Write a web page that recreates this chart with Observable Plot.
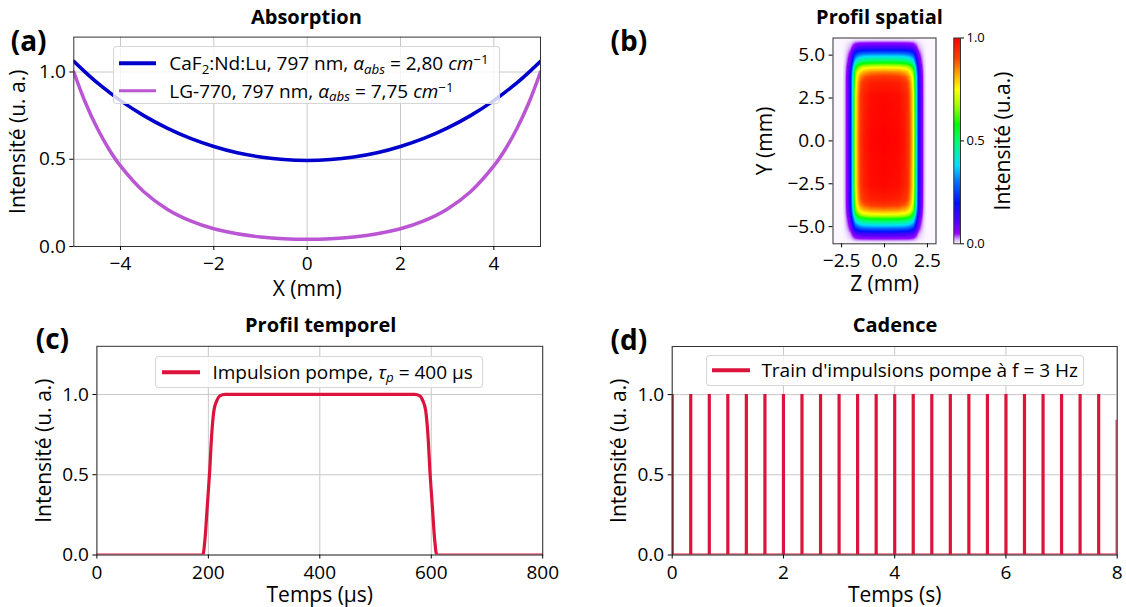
<!DOCTYPE html>
<html><head><meta charset="utf-8">
<script src="https://cdn.jsdelivr.net/npm/d3@7"></script>
<script src="https://cdn.jsdelivr.net/npm/@observablehq/plot@0.6"></script>
<style>
body{margin:0;background:#fff;font-family:"Open Sans",sans-serif;color:#000;}
#root{position:relative;width:1126px;height:607px;overflow:hidden;background:#fff;}
.title{position:absolute;font-weight:700;font-size:20px;transform:translate(-50%,-50%);white-space:nowrap;line-height:1;}
.letter{position:absolute;font-weight:700;font-size:28px;line-height:1;transform:translateY(-50%);}
.legend{position:absolute;background:rgba(255,255,255,0.8);border:1px solid rgba(204,204,204,0.8);border-radius:4px;box-sizing:border-box;z-index:5;}
.entry{position:absolute;font-size:19px;white-space:nowrap;line-height:1;transform:translateY(-50%);}
.swatch{position:absolute;height:3.5px;transform:translateY(-50%);}
.rlabel{position:absolute;font-size:21px;white-space:nowrap;line-height:1;transform:translate(-50%,-50%) rotate(-90deg);}
sub,sup{font-size:70%;line-height:0;vertical-align:baseline;position:relative;}
sub{top:0.25em;}
sup{top:-0.45em;}
svg [aria-label="x-axis label"], svg [aria-label="y-axis label"]{font-size:21px;}
</style></head>
<body><div id="root"></div>
<script>
// ---------- data ----------
// (a) Absorption profiles
const xA = [-5,-4.75,-4.5,-4.25,-4,-3.5,-3,-2.5,-2,-1.5,-1,-0.5,0,0.5,1,1.5,2,2.5,3,3.5,4,4.25,4.5,4.75,5];
const caf2 = [1.061,0.998,0.939,0.886,0.836,0.750,0.678,0.619,0.573,0.537,0.513,0.498,0.493,0.498,0.513,0.537,0.573,0.619,0.678,0.750,0.836,0.886,0.939,0.998,1.061];
const lg770 = [1.000,0.824,0.679,0.559,0.462,0.314,0.214,0.147,0.102,0.073,0.055,0.045,0.042,0.045,0.055,0.073,0.102,0.147,0.214,0.314,0.462,0.559,0.679,0.824,1.000];
const xTicksA = [-4,-2,0,2,4];
const yTicks = [0,0.5,1];

// (b) spatial profile (separable Z and Y profiles)
const zPos = [-3,-2.45,-2.3,-2.15,-2.05,-1.98,-1.88,-1.79,-1.69,-1.55,-1.4,-1.2,-0.8,0,0.8,1.2,1.4,1.55,1.69,1.79,1.88,1.98,2.05,2.15,2.3,2.45,3];
const zVal = [0,0,0.02,0.08,0.14,0.2,0.38,0.55,0.75,0.85,0.92,0.96,0.99,1,0.99,0.96,0.92,0.85,0.75,0.55,0.38,0.2,0.14,0.08,0.02,0,0];
const yPos = [-6,-5.95,-5.83,-5.6,-5.4,-5.29,-4.94,-4.6,-4.28,-4.03,-3.73,-3.4,-2.6,0,2.6,3.4,3.73,4.03,4.28,4.6,4.94,5.29,5.4,5.6,5.83,5.95,6];
const yVal = [0,0,0.02,0.08,0.14,0.2,0.38,0.55,0.75,0.85,0.92,0.96,0.99,1,0.99,0.96,0.92,0.85,0.75,0.55,0.38,0.2,0.14,0.08,0.02,0,0];
const zTicks = [-2.5,0,2.5];
const yTicksB = [-5,-2.5,0,2.5,5];
const cStops = [0,0.02,0.05,0.1,0.2,0.3,0.38,0.5,0.58,0.67,0.75,0.82,0.9,1];
const cColors = ["#fbf6ff","#d9b3ff","#9400ff","#5a00ff","#0010ff","#0070ff","#00e0ff","#00ff70","#00ff00","#a0ff00","#ffff00","#ffb000","#ff4000","#ff0000"];

// (c) temporal pulse
const tPulse = [0,190,194,198,202,206,210,215,220,230,400,570,580,585,590,594,598,602,606,610,800];
const vPulse = [0,0,0.1,0.3,0.5,0.75,0.9,0.96,0.99,1,1,1,0.99,0.96,0.9,0.75,0.5,0.3,0.1,0,0];
const xTicksC = [0,200,400,600,800];

// (d) pulse train at 3 Hz
const pulseT = [0,0.333,0.667,1,1.333,1.667,2,2.333,2.667,3,3.333,3.667,4,4.333,4.667,5,5.333,5.667,6,6.333,6.667,7,7.333,7.667,8];
const pulseH = [1,1,1,1,1,1,1,1,1,1,1,1,1,1,1,1,1,1,1,1,1,1,1,1,0.84];
const xTicksD = [0,2,4,6,8];

// ---------- styles ----------
const BLUE = "#0000cd", PURPLE = "#ba55d3", RED = "#dc143c", GRID = "#c8c8c8", FRAME = "#333";
const baseStyle = {fontFamily:"'Open Sans', sans-serif", fontSize:"19px", color:"#000", background:"transparent", overflow:"visible"};
const f1 = d3.format(".1f"), f0 = d3.format(".0f");
const colorScale = {type:"linear", domain:cStops, range:cColors, interpolate:"rgb"};
const root = document.getElementById("root");
function place(el, left, top){ el.style.position="absolute"; el.style.left=left+"px"; el.style.top=top+"px"; root.appendChild(el); return el; }
function html(cls, inner, left, top, extra){ const d=document.createElement("div"); d.className=cls; d.innerHTML=inner; d.style.left=left+"px"; d.style.top=top+"px"; if(extra) Object.assign(d.style, extra); root.appendChild(d); return d; }
const axX = {tickSize:4, tickPadding:6, labelAnchor:"center", labelArrow:"none"};
const axY = {tickSize:4, tickPadding:4, labelAnchor:"center", labelArrow:"none"};

// ---------- (a) ----------
const dataA = xA.map((x,i)=>({x, caf2:caf2[i], lg:lg770[i]}));
place(Plot.plot({
  width:560, height:300, marginLeft:73.3, marginRight:20, marginTop:36.6, marginBottom:54,
  style:baseStyle, x:{domain:[-5,5]}, y:{domain:[0,1.2]},
  marks:[
    Plot.gridX({ticks:xTicksA, stroke:GRID, strokeOpacity:1}),
    Plot.gridY({ticks:yTicks, stroke:GRID, strokeOpacity:1}),
    Plot.line(dataA, {x:"x", y:"lg", stroke:PURPLE, strokeWidth:3.5, curve:"catmull-rom", clip:true}),
    Plot.line(dataA, {x:"x", y:"caf2", stroke:BLUE, strokeWidth:3.5, curve:"catmull-rom", clip:true}),
    Plot.frame({stroke:FRAME}),
    Plot.axisX({...axX, ticks:xTicksA, tickFormat:f0, label:"X (mm)", labelOffset:49.5}),
    Plot.axisY({...axY, ticks:yTicks, tickFormat:f1, label:"Intensité (u. a.)", labelOffset:63.5})
  ]
}), 0, 0);

// ---------- (b) ----------
const fz = d3.scaleLinear().domain(zPos).range(zVal).clamp(true);
const fy = d3.scaleLinear().domain(yPos).range(yVal).clamp(true);
place(Plot.plot({
  width:250, height:300, marginLeft:132.5, marginRight:14.5, marginTop:37.5, marginBottom:56.7,
  style:baseStyle, x:{domain:[-3,3]}, y:{domain:[-6,6]}, color:colorScale,
  marks:[
    Plot.raster({x1:-3, x2:3, y1:-6, y2:6, fill:(x,y)=>fz(x)*fy(y), pixelSize:1}),
    Plot.frame({stroke:FRAME}),
    Plot.axisX({...axX, ticks:zTicks, tickFormat:f1, label:"Z (mm)", labelOffset:47.5}),
    Plot.axisY({...axY, ticks:yTicksB, tickFormat:f1, label:"Y (mm)", labelOffset:76})
  ]
}), 700, 0);

// colorbar
place(Plot.plot({
  width:100, height:300, marginLeft:13.3, marginRight:80, marginTop:37.5, marginBottom:56.7,
  style:{...baseStyle, fontSize:"13px"}, x:{domain:[0,1], axis:null}, y:{domain:[0,1]}, color:colorScale,
  marks:[
    Plot.raster({x1:0, x2:1, y1:0, y2:1, fill:(x,y)=>y, pixelSize:1}),
    Plot.frame({stroke:FRAME}),
    Plot.axisY({anchor:"right", ticks:[0,0.5,1], tickFormat:f1, tickSize:3, tickPadding:3, label:null})
  ]
}), 940, 0);
html("rlabel", "Intensité (u.a.)", 1002, 140.6);

// ---------- (c) ----------
const dataC = tPulse.map((t,i)=>({t, v:vPulse[i]}));
place(Plot.plot({
  width:560, height:307, marginLeft:96.4, marginRight:17.8, marginTop:45.8, marginBottom:52.5,
  style:baseStyle, x:{domain:[0,800]}, y:{domain:[0,1.3]},
  marks:[
    Plot.gridX({ticks:xTicksC, stroke:GRID, strokeOpacity:1}),
    Plot.gridY({ticks:yTicks, stroke:GRID, strokeOpacity:1}),
    Plot.line(dataC, {x:"t", y:"v", stroke:RED, strokeWidth:3.2, curve:"monotone-x", clip:true}),
    Plot.frame({stroke:FRAME}),
    Plot.axisX({...axX, ticks:xTicksC, tickFormat:f0, label:"Temps (µs)", labelOffset:47}),
    Plot.axisY({...axY, ticks:yTicks, tickFormat:f1, label:"Intensité (u. a.)", labelOffset:61})
  ]
}), 0, 300);

// ---------- (d) ----------
const dataD = pulseT.map((t,i)=>({t, h:pulseH[i]}));
place(Plot.plot({
  width:563, height:307, marginLeft:108.7, marginRight:9.3, marginTop:46, marginBottom:52.5,
  style:baseStyle, x:{domain:[0,8]}, y:{domain:[0,1.3]},
  marks:[
    Plot.gridX({ticks:xTicksD, stroke:GRID, strokeOpacity:1}),
    Plot.gridY({ticks:yTicks, stroke:GRID, strokeOpacity:1}),
    Plot.ruleY([0], {stroke:RED, strokeWidth:3, clip:true}),
    Plot.ruleX(dataD, {x:"t", y1:0, y2:"h", stroke:RED, strokeWidth:3.2, clip:true}),
    Plot.frame({stroke:FRAME}),
    Plot.axisX({...axX, ticks:xTicksD, tickFormat:f0, label:"Temps (s)", labelOffset:47}),
    Plot.axisY({...axY, ticks:yTicks, tickFormat:f1, label:"Intensité (u. a.)", labelOffset:60.7})
  ]
}), 563, 300);

// ---------- titles & letters ----------
html("title", "Absorption", 306.4, 17.3);
html("title", "Profil spatial", 879.5, 17.3);
html("title", "Profil temporel", 320.7, 325);
html("title", "Cadence", 895, 325);
html("letter", "(a)", 10.7, 40);
html("letter", "(b)", 610.5, 40);
html("letter", "(c)", 35.7, 338);
html("letter", "(d)", 610.5, 339);

// ---------- legends ----------
function legend(left, top, w, h, entries){
  const box = html("legend", "", left, top, {width:w+"px", height:h+"px"});
  for (const e of entries){
    const s=document.createElement("div"); s.className="swatch";
    Object.assign(s.style,{left:e.sx+"px", top:e.y+"px", width:e.sw+"px", background:e.color});
    box.appendChild(s);
    const t=document.createElement("div"); t.className="entry"; t.innerHTML=e.text;
    Object.assign(t.style,{left:e.tx+"px", top:e.y+"px"});
    box.appendChild(t);
  }
}
legend(113.3, 46, 386.7, 58, [
  {sx:4.7, sw:37, tx:55, y:16.2, color:BLUE, text:"CaF<sub>2</sub>:Nd:Lu, 797 nm, <i>α<sub>abs</sub></i> = 2,80 <i>cm</i><sup>−1</sup>"},
  {sx:4.7, sw:37, tx:55, y:43.5, color:PURPLE, text:"LG-770, 797 nm, <i>α<sub>abs</sub></i> = 7,75 <i>cm</i><sup>−1</sup>"}
]);
legend(155.4, 355.5, 327.5, 32.5, [
  {sx:6, sw:38, tx:56, y:15.5, color:RED, text:"Impulsion pompe, <i>τ<sub>p</sub></i> = 400 µs"}
]);
legend(705.7, 355, 378.5, 31, [
  {sx:5.3, sw:38.3, tx:54.7, y:14.3, color:RED, text:"Train d'impulsions pompe à f = 3 Hz"}
]);
</script>
</body></html>
